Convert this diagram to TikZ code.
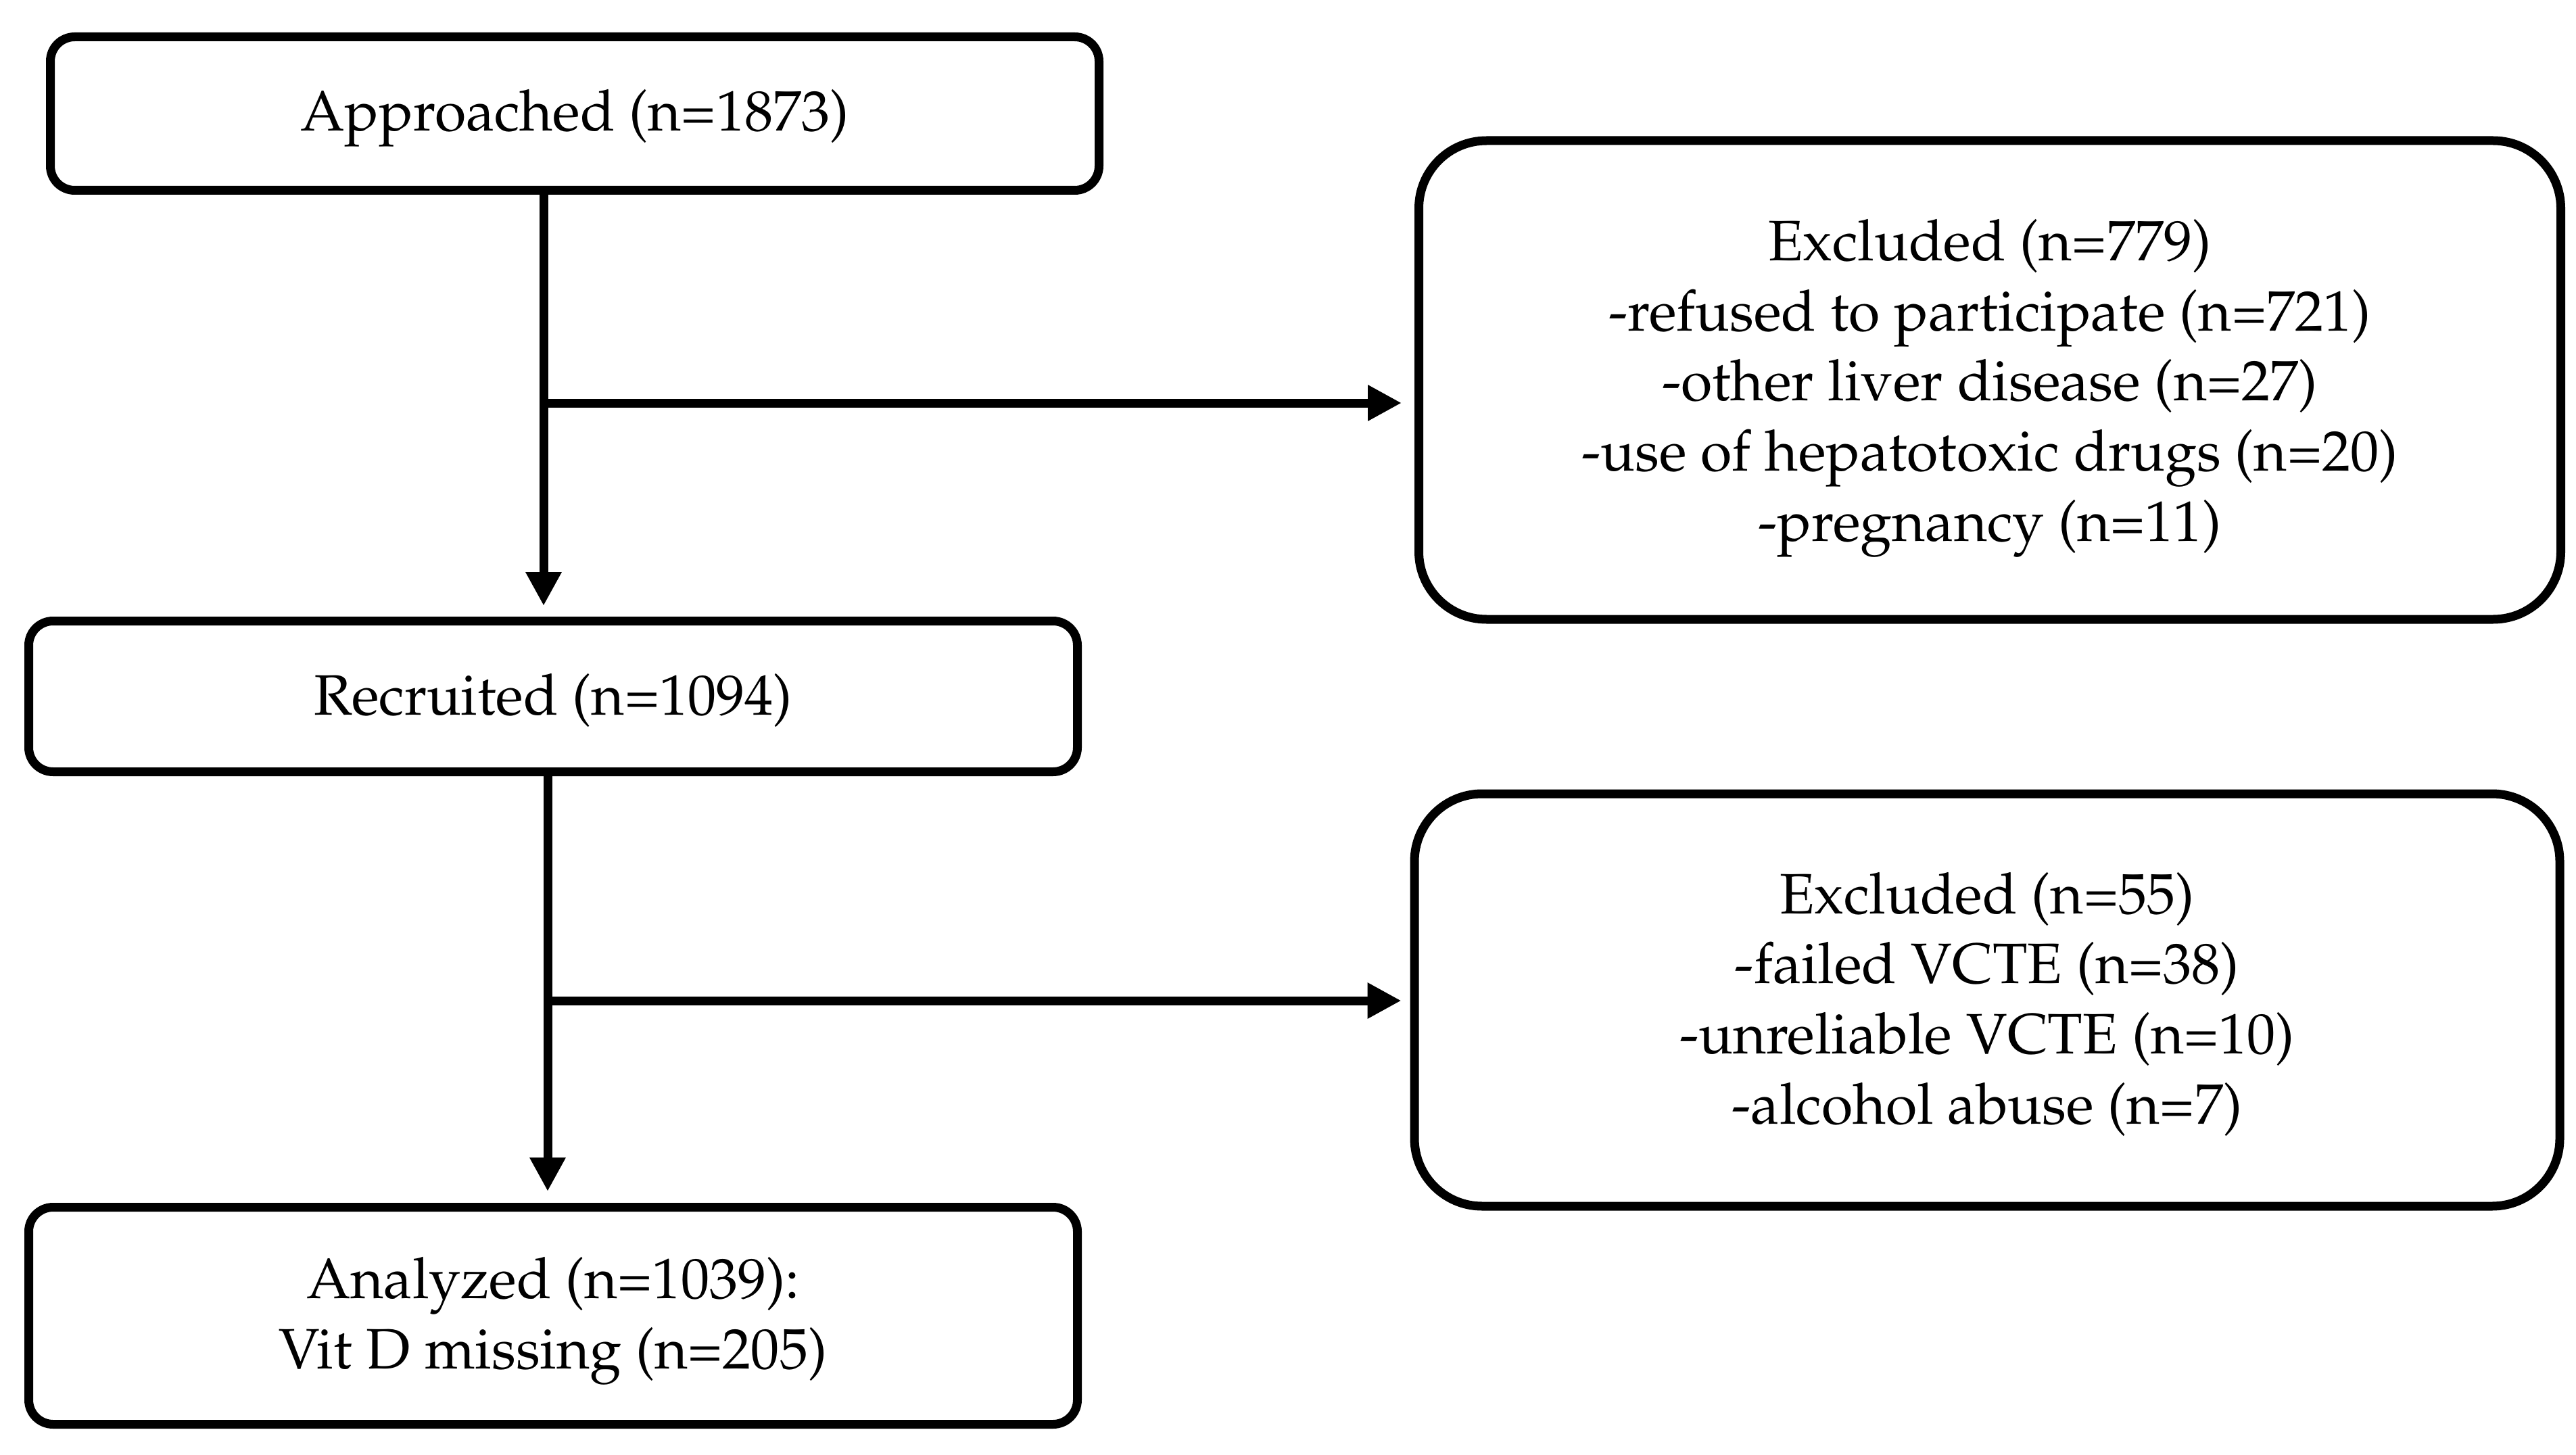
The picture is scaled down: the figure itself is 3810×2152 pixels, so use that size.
\documentclass[tikz,border=0pt]{standalone}
\usepackage[T1]{fontenc}
\usepackage{mathpazo}
\usetikzlibrary{arrows.meta}
\newcommand\boxtext[2]{\raisebox{-#1}[\height][\depth]{\begin{tabular}{@{}c@{}}#2\end{tabular}}}
\tikzset{
  box/.style={draw, line width=1.3mm, rounded corners=3.6mm,
    inner sep=0pt, font=\fontsize{24pt}{29.5pt}\selectfont},
  bigbox/.style={box, rounded corners=10mm},
  conn/.style={line width=1.3mm, -{Triangle[length=5mm,width=5mm]}}
}
\begin{document}
\begin{tikzpicture}[x=0.1mm,y=-0.1mm]
\useasboundingbox (0,0) rectangle (3810,2152);
\node[box, minimum width=155.1mm, minimum height=22.7mm] (app) at (850,168) {\boxtext{0.5mm}{Approached (n=1873)}};
\node[bigbox, minimum width=168.9mm, minimum height=70.8mm] (ex1) at (2943,562)
  {\boxtext{1.0mm}{Excluded (n=779)\\-refused to participate (n=721)\\-other liver disease (n=27)\\-use of hepatotoxic drugs (n=20)\\-pregnancy (n=11)}};
\node[box, minimum width=155.1mm, minimum height=22.3mm] (rec) at (818,1030) {\boxtext{0.7mm}{Recruited (n=1094)}};
\node[bigbox, minimum width=169.4mm, minimum height=61.0mm] (ex2) at (2939,1479)
  {\boxtext{0.7mm}{Excluded (n=55)\\-failed VCTE (n=38)\\-unreliable VCTE (n=10)\\-alcohol abuse (n=7)}};
\node[box, minimum width=155.1mm, minimum height=32.1mm] (ana) at (818,1946) {\boxtext{0.6mm}{Analyzed (n=1039):\\Vit D missing (n=205)}};
\coordinate (v1) at (804,596);
\coordinate (v2) at (810,1480);
\draw[conn] (app.south -| v1) -- ([yshift=1.6mm]rec.north -| v1);
\draw[conn] (v1) -- ([xshift=-1.9mm]ex1.west |- v1);
\draw[conn] (rec.south -| v2) -- ([yshift=1.7mm]ana.north -| v2);
\draw[conn] (v2) -- ([xshift=-1.3mm]ex2.west |- v2);
\end{tikzpicture}
\end{document}
